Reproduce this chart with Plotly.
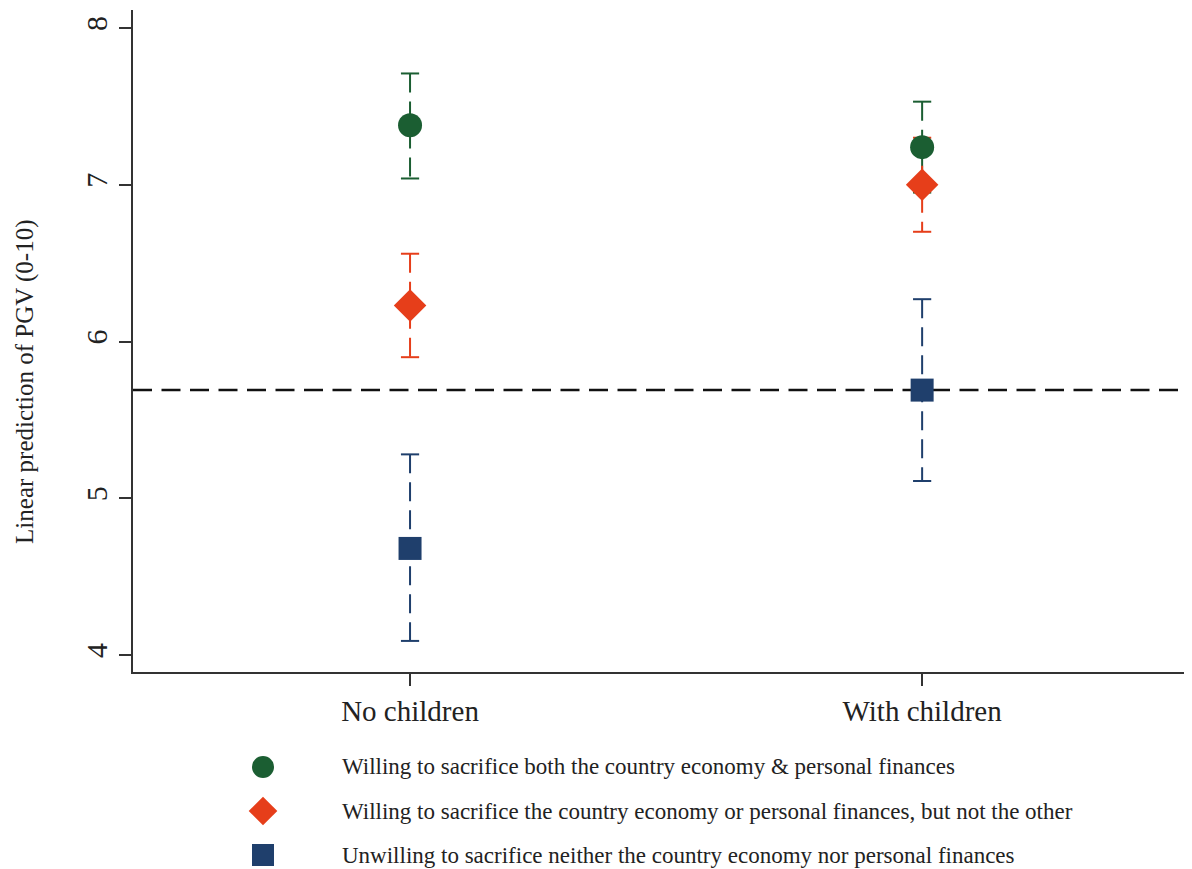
import plotly.graph_objects as go

categories = ["No children", "With children"]
series_names = [
    "Willing to sacrifice both the country economy & personal finances",
    "Willing to sacrifice the country economy or personal finances, but not the other",
    "Unwilling to sacrifice neither the country economy nor personal finances",
]
est_green = [7.38, 7.24]
lo_green = [7.04, 6.95]
hi_green = [7.71, 7.53]
est_orange = [6.23, 7.00]
lo_orange = [5.90, 6.70]
hi_orange = [6.56, 7.30]
est_blue = [4.68, 5.69]
lo_blue = [4.09, 5.11]
hi_blue = [5.28, 6.27]
ref_line = 5.69
y_ticks = [4, 5, 6, 7, 8]
y_title = "Linear prediction of PGV (0-10)"

colors = ["#1b5e32", "#e63e1a", "#1f3f6c"]
symbols = ["circle", "diamond", "square"]
sizes = [24, 25, 23]
legend_sizes = [22, 22, 22]
ests = [est_green, est_orange, est_blue]
los = [lo_green, lo_orange, lo_blue]
his = [hi_green, hi_orange, hi_blue]

FONT = "Liberation Serif"
xs = list(range(len(categories)))

fig = go.Figure()

# CI dashed lines
for s in range(3):
    for i in xs:
        fig.add_trace(go.Scatter(
            x=[i, i], y=[his[s][i], los[s][i]], mode="lines",
            line=dict(color=colors[s], width=2, dash="19px,9px"),
            showlegend=False, hoverinfo="skip"))
# caps
for s in range(3):
    fig.add_trace(go.Scatter(
        x=xs + xs, y=los[s] + his[s], mode="markers",
        marker=dict(symbol="line-ew", size=13, line=dict(color=colors[s], width=2)),
        showlegend=False, hoverinfo="skip"))
# point estimates
for s in range(3):
    fig.add_trace(go.Scatter(
        x=xs, y=ests[s], mode="markers", name=series_names[s],
        marker=dict(symbol=symbols[s], size=sizes[s], color=colors[s],
                    line=dict(width=0)),
        showlegend=False))

# custom legend in lower subplot
for s in range(3):
    fig.add_trace(go.Scatter(
        x=[263], y=[s], mode="markers", xaxis="x2", yaxis="y2",
        marker=dict(symbol=symbols[s], size=legend_sizes[s], color=colors[s],
                    line=dict(width=0)),
        showlegend=False, hoverinfo="skip"))
    fig.add_annotation(x=340, y=s, xref="x2", yref="y2", text=series_names[s],
                       showarrow=False, xanchor="left", yanchor="middle",
                       font=dict(family=FONT, size=23, color="#222"))

fig.add_shape(type="line", xref="paper", yref="y", x0=0, x1=1,
              y0=ref_line, y1=ref_line, layer="below",
              line=dict(color="#111", width=2.5, dash="19px,9.5px"))

fig.add_annotation(x=-0.102, y=0.567, xref="paper", yref="paper", text=y_title,
                   textangle=-90, showarrow=False, xanchor="center", yanchor="middle",
                   font=dict(family=FONT, size=25, color="#222"))

fig.update_layout(
    width=1184, height=861,
    margin=dict(l=125, r=0, t=2, b=0),
    paper_bgcolor="white", plot_bgcolor="white",
    font=dict(family=FONT, color="#222"),
    xaxis=dict(range=[-0.541, 1.527], tickvals=xs, ticktext=categories,
               showgrid=False, zeroline=False, showline=True,
               linecolor="#333", linewidth=1.5, ticks="outside", ticklen=12,
               tickcolor="#333", tickwidth=1.5,
               tickfont=dict(family=FONT, size=29, color="#222"),
               anchor="y"),
    yaxis=dict(domain=[0.2293, 1], range=[3.8915, 8.1148], tickvals=y_ticks,
               showgrid=False, zeroline=False, showline=True,
               linecolor="#333", linewidth=1.5, ticks="outside", ticklen=12,
               tickcolor="#333", tickwidth=1.5, tickangle=-90,
               tickfont=dict(family=FONT, size=30, color="#222"),
               anchor="x"),
    xaxis2=dict(domain=[0, 1], range=[133, 1192], visible=False, anchor="y2"),
    yaxis2=dict(domain=[0, 0.2], range=[2.318, -1.586], visible=False, anchor="x2"),
)

fig.write_html("out.html")
